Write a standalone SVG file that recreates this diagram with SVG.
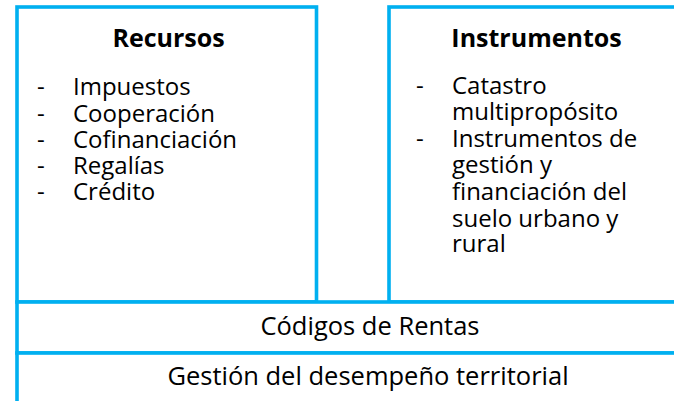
<svg xmlns="http://www.w3.org/2000/svg" width="674" height="401" viewBox="0 0 674 401">
<style>
.box{fill:#ffffff;stroke:#00B0F0;stroke-width:3.6}
.t{font-family:"Open Sans","Noto Sans",sans-serif;font-size:24px;fill:#000000}
.b{font-size:25.5px}
.h{font-family:"Open Sans","Noto Sans",sans-serif;font-size:25px;font-weight:bold;fill:#000000;text-anchor:middle}
.c{text-anchor:middle}
</style>
<rect x="0" y="0" width="674" height="401" fill="#ffffff"/>
<g id="recursos">
<rect class="box" x="17" y="7" width="299.5" height="295"/>
<text class="h" x="168.5" y="47">Recursos</text>
<text class="t" x="37" y="95">-</text><text class="t" x="73" y="95">Impuestos</text>
<text class="t" x="37" y="121.5">-</text><text class="t" x="73" y="121.5">Cooperación</text>
<text class="t" x="37" y="148">-</text><text class="t" x="73" y="148">Cofinanciación</text>
<text class="t" x="37" y="174">-</text><text class="t" x="73" y="174">Regalías</text>
<text class="t" x="37" y="200">-</text><text class="t" x="73" y="200">Crédito</text>
</g>
<g id="instrumentos">
<rect class="box" x="389" y="7" width="310" height="295"/>
<text class="h" x="536.5" y="47">Instrumentos</text>
<text class="t" x="416" y="94">-</text><text class="t" x="452" y="94">Catastro</text>
<text class="t" x="452" y="120">multipropósito</text>
<text class="t" x="416" y="147">-</text><text class="t" x="452" y="147">Instrumentos de</text>
<text class="t" x="452" y="173">gestión y</text>
<text class="t" x="452" y="200">financiación del</text>
<text class="t" x="452" y="226.5">suelo urbano y</text>
<text class="t" x="452" y="252">rural</text>
</g>
<g id="codigos">
<rect class="box" x="17" y="302" width="720" height="51"/>
<text class="t b c" x="370" y="335">Códigos de Rentas</text>
</g>
<g id="gestion">
<rect class="box" x="17" y="353" width="720" height="70"/>
<text class="t b c" x="368" y="385">Gestión del desempeño territorial</text>
</g>
<g id="connectors"/>
</svg>
